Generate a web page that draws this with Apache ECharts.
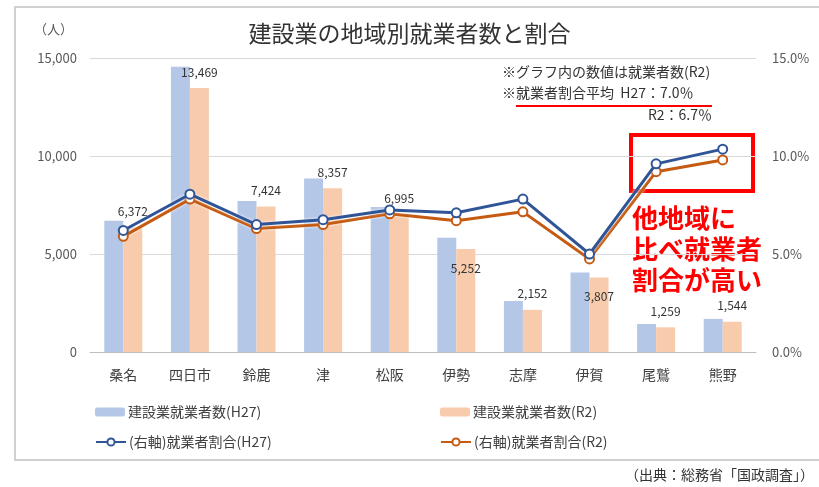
<!DOCTYPE html>
<html>
<head>
<meta charset="utf-8">
<script src="https://cdn.jsdelivr.net/npm/echarts@6/dist/echarts.min.js"></script>
<style>
  html, body { margin: 0; padding: 0; background: #fff; }
  #chart { width: 819px; height: 487px; }
</style>
</head>
<body>
<div id="chart"></div>
<script>
// 地域
const categories = ['桑名', '四日市', '鈴鹿', '津', '松阪', '伊勢', '志摩', '伊賀', '尾鷲', '熊野'];
// 建設業就業者数（人）
const workersH27 = [6700, 14550, 7700, 8850, 7400, 5830, 2600, 4050, 1430, 1690];
const workersR2 = [6372, 13469, 7424, 8357, 6995, 5252, 2152, 3807, 1259, 1544];
// 就業者割合（％）
const ratioH27 = [6.2, 8.05, 6.5, 6.75, 7.25, 7.1, 7.8, 5.0, 9.6, 10.35];
const ratioR2 = [5.9, 7.8, 6.3, 6.5, 7.05, 6.7, 7.15, 4.75, 9.2, 9.8];
// 軸目盛
const leftTicks = [0, 5000, 10000, 15000];
const rightTicks = [0, 5, 10, 15];

const seriesNames = ['建設業就業者数(H27)', '建設業就業者数(R2)', '(右軸)就業者割合(H27)', '(右軸)就業者割合(R2)'];

const font = '"Noto Sans CJK JP", "Noto Sans", sans-serif';
const textColor = '#404040';

// ラベルを棒の内側に置く地域（伊勢・伊賀）
const insideLabel = ['伊勢', '伊賀'];

const chart = echarts.init(document.getElementById('chart'));

const legendItem = (name, left, top) => ({
  data: [name],
  left: left,
  top: top,
  itemWidth: 30,
  itemHeight: 9,
  itemGap: 0,
  padding: 0,
  selectedMode: false,
  textStyle: { fontFamily: font, fontSize: 14, color: textColor, padding: [0, 0, 0, -2] }
});

const option = {
  animation: false,
  backgroundColor: '#fff',
  title: {
    text: '建設業の地域別就業者数と割合',
    left: 'center',
    top: 17,
    textStyle: { fontFamily: font, fontSize: 23, fontWeight: 'normal', color: '#333' }
  },
  legend: [
    legendItem(seriesNames[0], 95, 405),
    legendItem(seriesNames[1], 440, 405),
    legendItem(seriesNames[2], 95, 435),
    legendItem(seriesNames[3], 440, 435)
  ],
  grid: { left: 90, right: 63, top: 58, bottom: 135 },
  xAxis: {
    type: 'category',
    data: categories,
    axisTick: { show: false },
    axisLine: { lineStyle: { color: '#bfbfbf', width: 1 } },
    axisLabel: { fontFamily: font, fontSize: 14, color: textColor, margin: 16 }
  },
  yAxis: [
    {
      type: 'value',
      min: leftTicks[0],
      max: leftTicks[leftTicks.length - 1],
      interval: leftTicks[1] - leftTicks[0],
      axisLine: { show: false },
      axisTick: { show: false },
      splitLine: { lineStyle: { color: '#d9d9d9', width: 1 } },
      axisLabel: {
        fontFamily: font, fontSize: 13, color: '#595959', margin: 13,
        formatter: v => v.toLocaleString('en-US')
      }
    },
    {
      type: 'value',
      min: rightTicks[0],
      max: rightTicks[rightTicks.length - 1],
      interval: rightTicks[1] - rightTicks[0],
      axisLine: { show: false },
      axisTick: { show: false },
      splitLine: { show: false },
      axisLabel: {
        fontFamily: font, fontSize: 13, color: '#595959', margin: 16,
        formatter: v => v.toFixed(1) + '%'
      }
    }
  ],
  series: [
    {
      name: seriesNames[0],
      type: 'bar',
      data: workersH27,
      barWidth: 19,
      barGap: '0%',
      itemStyle: { color: '#b4c7e7' }
    },
    {
      name: seriesNames[1],
      type: 'bar',
      barWidth: 19,
      barGap: '0%',
      itemStyle: { color: '#f8cbad' },
      data: workersR2.map((v, i) => {
        const inside = insideLabel.includes(categories[i]);
        return {
          value: v,
          label: inside ? { position: 'insideTop', distance: 13 } : { position: 'top', distance: 10 }
        };
      }),
      label: {
        show: true,
        fontFamily: font,
        fontSize: 12,
        color: '#333',
        formatter: p => p.value.toLocaleString('en-US')
      }
    },
    {
      name: seriesNames[2],
      type: 'line',
      yAxisIndex: 1,
      data: ratioH27,
      symbol: 'circle',
      symbolSize: 9,
      z: 4,
      lineStyle: { color: '#2f5597', width: 3, shadowColor: '#fff', shadowBlur: 3 },
      itemStyle: { color: '#fff', borderColor: '#2f5597', borderWidth: 2 }
    },
    {
      name: seriesNames[3],
      type: 'line',
      yAxisIndex: 1,
      data: ratioR2,
      symbol: 'circle',
      symbolSize: 9,
      z: 3,
      lineStyle: { color: '#c55a11', width: 3, shadowColor: '#fff', shadowBlur: 3 },
      itemStyle: { color: '#fff', borderColor: '#c55a11', borderWidth: 2 }
    }
  ],
  graphic: [
    {
      type: 'rect', silent: true, z: -1,
      shape: { x: 15, y: 7, width: 812, height: 453 },
      style: { fill: 'none', stroke: '#d0d0d0', lineWidth: 2 }
    },
    {
      type: 'text', left: 34, top: 23,
      style: { text: '（人）', font: '13px ' + font, fill: '#595959' }
    },
    {
      type: 'text', left: 502, top: 65,
      style: { text: '※グラフ内の数値は就業者数(R2)', font: '14px ' + font, fill: '#333' }
    },
    {
      type: 'text', left: 502, top: 86,
      style: { text: '※就業者割合平均  H27：7.0％', font: '14px ' + font, fill: '#333' }
    },
    {
      type: 'line', silent: true,
      shape: { x1: 516, y1: 106, x2: 712, y2: 106 },
      style: { stroke: '#ff0000', lineWidth: 2 }
    },
    {
      type: 'text', right: 107, top: 108,
      style: { text: 'R2：6.7％', font: '14px ' + font, fill: '#333', align: 'right' }
    },
    {
      type: 'rect', silent: true,
      shape: { x: 631, y: 135, width: 122, height: 56 },
      style: { fill: 'none', stroke: '#ff0000', lineWidth: 4 }
    },
    {
      type: 'text', left: 632, top: 203,
      style: {
        text: '他地域に\n比べ就業者\n割合が高い',
        font: 'bold 26px ' + font,
        fill: '#ff0000',
        lineHeight: 31,
        align: 'center',
        x: 65
      }
    },
    {
      type: 'line', silent: true,
      shape: { x1: 15, y1: 460, x2: 819, y2: 460 },
      style: { stroke: '#d0d0d0', lineWidth: 2 }
    },
    {
      type: 'text', right: 5, top: 468,
      style: { text: '（出典：総務省「国政調査」）', font: '14px ' + font, fill: '#333' }
    }
  ]
};

chart.setOption(option);
</script>
</body>
</html>
